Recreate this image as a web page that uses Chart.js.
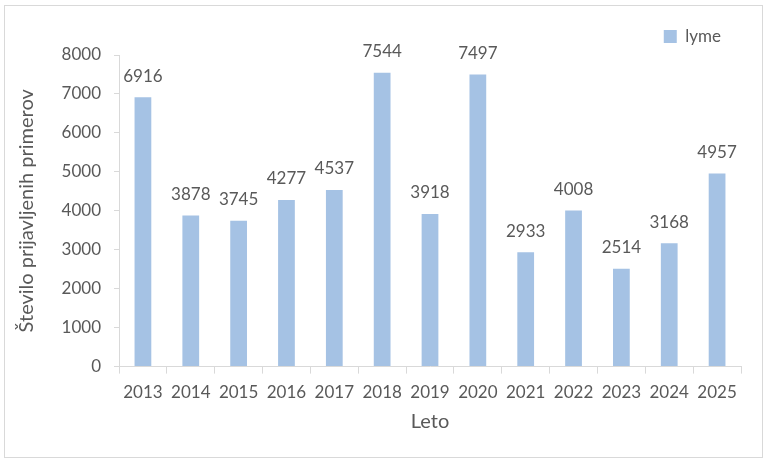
<!DOCTYPE html>
<html>
<head>
<meta charset="utf-8">
<script src="https://cdn.jsdelivr.net/npm/chart.js@4.4.1/dist/chart.umd.min.js"></script>
<style>
  html, body { margin: 0; padding: 0; background: #ffffff; }
  canvas { display: block; }
</style>
</head>
<body>
<canvas id="lymeChart" width="768" height="462"></canvas>
<script>
// Podatki
const leta = ['2013', '2014', '2015', '2016', '2017', '2018', '2019', '2020', '2021', '2022', '2023', '2024', '2025'];
const lymeVrednosti = [6916, 3878, 3745, 4277, 4537, 7544, 3918, 7497, 2933, 4008, 2514, 3168, 4957];
const yTicks = [0, 1000, 2000, 3000, 4000, 5000, 6000, 7000, 8000];

const barvaStolpcev = '#a5c2e4';
const barvaTeksta = '#595959';
const barvaOsi = '#d9d9d9';
const pisava = 'Lato, "Open Sans", sans-serif';

// okvir okrog celotnega grafa + belo ozadje
const okvirPlugin = {
    id: 'okvir',
    beforeDraw(chart) {
        const ctx = chart.ctx;
        ctx.save();
        ctx.fillStyle = '#ffffff';
        ctx.fillRect(0, 0, chart.width, chart.height);
        ctx.strokeStyle = barvaOsi;
        ctx.lineWidth = 1;
        ctx.strokeRect(4.5, 5.5, 758, 452);
        ctx.restore();
    }
};

// oznake vrednosti nad stolpci
const oznakePlugin = {
    id: 'oznake',
    afterDatasetsDraw(chart) {
        const ctx = chart.ctx;
        const meta = chart.getDatasetMeta(0);
        ctx.save();
        ctx.font = '17px ' + pisava;
        ctx.fillStyle = barvaTeksta;
        ctx.textAlign = 'center';
        ctx.textBaseline = 'middle';
        meta.data.forEach((bar, i) => {
            ctx.fillText(String(chart.data.datasets[0].data[i]), bar.x, bar.y - 21);
        });
        ctx.restore();
    }
};

// legenda malo bolj levo, kot v Excelu
const legendaPremik = {
    id: 'legendaPremik',
    afterLayout(chart) {
        const lg = chart.legend;
        if (!lg) return;
        lg.left -= 10;
        lg.right -= 10;
    }
};

new Chart(document.getElementById('lymeChart'), {
    type: 'bar',
    data: {
        labels: leta,
        datasets: [{
            label: 'lyme',
            data: lymeVrednosti,
            backgroundColor: barvaStolpcev,
            borderWidth: 0,
            categoryPercentage: 1,
            barPercentage: 0.35
        }]
    },
    options: {
        responsive: false,
        animation: false,
        layout: { padding: { left: 7, right: 27, top: 18, bottom: 28 } },
        plugins: {
            legend: {
                display: true,
                position: 'top',
                align: 'end',
                labels: {
                    boxWidth: 13,
                    boxHeight: 13,
                    padding: 10,
                    color: barvaTeksta,
                    font: { family: pisava, size: 17 }
                }
            },
            tooltip: { enabled: false }
        },
        scales: {
            x: {
                offset: true,
                grid: { offset: true, drawOnChartArea: false, drawTicks: true, tickLength: 7, color: barvaOsi },
                border: { color: barvaOsi },
                ticks: { color: barvaTeksta, font: { family: pisava, size: 17 }, padding: 9, maxRotation: 0 },
                title: {
                    display: true,
                    text: 'Leto',
                    color: barvaTeksta,
                    font: { family: pisava, size: 20 },
                    padding: { top: -2, bottom: 0 }
                }
            },
            y: {
                min: 0,
                max: 8000,
                afterBuildTicks: (scale) => { scale.ticks = yTicks.map(v => ({ value: v })); },
                afterFit: (scale) => { scale.width = 112; },
                grid: { drawOnChartArea: false, drawTicks: true, tickLength: 5, color: barvaOsi },
                border: { color: barvaOsi },
                ticks: {
                    color: barvaTeksta,
                    font: { family: pisava, size: 17 },
                    padding: 13,
                    callback: (v) => String(v)
                },
                title: {
                    display: true,
                    text: 'Število prijavljenih primerov',
                    color: barvaTeksta,
                    font: { family: pisava, size: 20 },
                    padding: { top: 8, bottom: 0 }
                }
            }
        }
    },
    plugins: [okvirPlugin, oznakePlugin, legendaPremik]
});
</script>
</body>
</html>
